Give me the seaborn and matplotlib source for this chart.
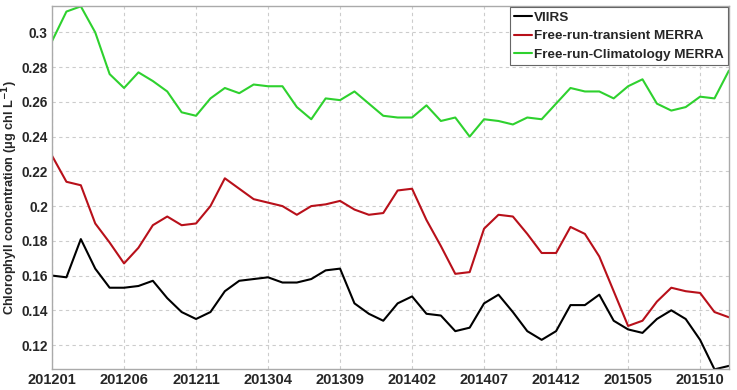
import numpy as np
import pandas as pd
import seaborn as sns
import matplotlib.pyplot as plt

# monthly means, 201201 .. 201512
months = [f"{y}{m:02d}" for y in range(2012, 2016) for m in range(1, 13)]
tick_labels = ["201201", "201206", "201211", "201304", "201309",
               "201402", "201407", "201412", "201505", "201510"]

viirs = [0.160, 0.159, 0.181, 0.164, 0.153, 0.153, 0.154, 0.157, 0.147, 0.139,
         0.135, 0.139, 0.151, 0.157, 0.158, 0.159, 0.156, 0.156, 0.158, 0.163,
         0.164, 0.144, 0.138, 0.134, 0.144, 0.148, 0.138, 0.137, 0.128, 0.130,
         0.144, 0.149, 0.139, 0.128, 0.123, 0.128, 0.143, 0.143, 0.149, 0.134,
         0.129, 0.127, 0.135, 0.140, 0.135, 0.123, 0.106, 0.108]
transient = [0.229, 0.214, 0.212, 0.190, 0.179, 0.167, 0.176, 0.189, 0.194, 0.189,
             0.190, 0.200, 0.216, 0.210, 0.204, 0.202, 0.200, 0.195, 0.200, 0.201,
             0.203, 0.198, 0.195, 0.196, 0.209, 0.210, 0.192, 0.177, 0.161, 0.162,
             0.187, 0.195, 0.194, 0.184, 0.173, 0.173, 0.188, 0.184, 0.171, 0.151,
             0.131, 0.134, 0.145, 0.153, 0.151, 0.150, 0.139, 0.136]
climatology = [0.295, 0.312, 0.315, 0.300, 0.276, 0.268, 0.277, 0.272, 0.266, 0.254,
               0.252, 0.262, 0.268, 0.265, 0.270, 0.269, 0.269, 0.257, 0.250, 0.262,
               0.261, 0.266, 0.259, 0.252, 0.251, 0.251, 0.258, 0.249, 0.251, 0.240,
               0.250, 0.249, 0.247, 0.251, 0.250, 0.259, 0.268, 0.266, 0.266, 0.262,
               0.269, 0.273, 0.259, 0.255, 0.257, 0.263, 0.262, 0.278]

series = {"VIIRS": viirs,
          "Free-run-transient MERRA": transient,
          "Free-run-Climatology MERRA": climatology}
colors = {"VIIRS": "#000000",
          "Free-run-transient MERRA": "#b8101a",
          "Free-run-Climatology MERRA": "#2ed12e"}

rows = []
for name, vals in series.items():
    for i, v in enumerate(vals):
        rows.append({"idx": i, "month": months[i], "value": v, "series": name})
df = pd.DataFrame(rows)

sns.set_style("white")
plt.rcParams["font.family"] = ["Liberation Sans", "DejaVu Sans"]
plt.rcParams["font.weight"] = "bold"
plt.rcParams["mathtext.default"] = "bf"

fig = plt.figure(figsize=(7.37, 3.9), dpi=100)
ax = fig.add_axes([0.0706, 0.0538, 0.9184, 0.9308])

sns.lineplot(data=df, x="idx", y="value", hue="series", palette=colors,
             linewidth=1.5, ax=ax)

ax.set_xlim(0, len(months) - 1)
ax.set_ylim(0.1062, 0.3152)
ax.set_xticks([months.index(t) for t in tick_labels])
ax.set_xticklabels(tick_labels, fontsize=10.5, fontweight="bold")
ax.set_yticks([0.12, 0.14, 0.16, 0.18, 0.2, 0.22, 0.24, 0.26, 0.28, 0.3])
ax.set_yticklabels(["0.12", "0.14", "0.16", "0.18", "0.2", "0.22", "0.24",
                    "0.26", "0.28", "0.3"], fontsize=9.8, fontweight="bold")
ax.set_xlabel("")
ax.set_ylabel("Chlorophyll concentration (\u03bcg chl L$^{-1}$)",
              fontsize=9.2, fontweight="bold")
ax.yaxis.set_label_coords(-0.047, 0.474)
ax.grid(True, linestyle=(0, (3, 3)), color="#cccccc", linewidth=0.8)
ax.tick_params(direction="in", length=3, color="#888888", pad=3)
for s in ax.spines.values():
    s.set_color("#aaaaaa")
    s.set_linewidth(1.0)

leg = ax.legend(loc="upper right", fontsize=9.7, handlelength=1.4,
                handletextpad=0.1, borderpad=0.3, labelspacing=0.45,
                borderaxespad=0.1, fancybox=False, framealpha=1)
leg.get_frame().set_edgecolor("#666666")
leg.get_frame().set_linewidth(0.8)
for t in leg.get_texts():
    t.set_fontweight("bold")

fig.savefig("out.png", dpi=100)
